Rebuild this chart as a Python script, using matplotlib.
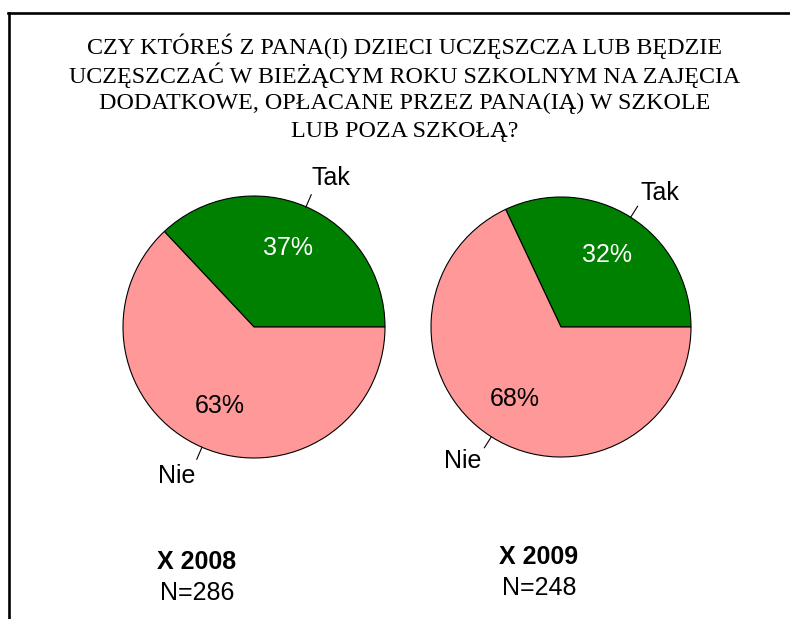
import numpy as np
import matplotlib
matplotlib.use("Agg")
import matplotlib.pyplot as plt
from matplotlib.lines import Line2D

title_lines = [
    "CZY KTÓREŚ Z PANA(I) DZIECI UCZĘSZCZA LUB BĘDZIE",
    "UCZĘSZCZAĆ W BIEŻĄCYM ROKU SZKOLNYM NA ZAJĘCIA",
    "DODATKOWE, OPŁACANE PRZEZ PANA(IĄ) W SZKOLE",
    "LUB POZA SZKOŁĄ?",
]
categories = ["Tak", "Nie"]
values_2008 = [37, 63]
values_2009 = [32, 68]
years = ["X 2008", "X 2009"]
sample_sizes = ["N=286", "N=248"]

colors = ["#008000", "#FF9999"]

W, H = 790, 619
fig = plt.figure(figsize=(W / 100, H / 100), dpi=100)
fig.patch.set_facecolor("white")

# frame: top and left line only
fig.add_artist(Line2D([8 / W, 1], [1 - 12.5 / H, 1 - 12.5 / H], color="black", lw=1.9))
fig.add_artist(Line2D([8.5 / W, 8.5 / W], [0, 1 - 12.5 / H], color="black", lw=1.9))

title_y = [46, 75, 103, 131]
for line, y in zip(title_lines, title_y):
    fig.text(405 / W, 1 - y / H, line, ha="center", va="center",
             family="Liberation Serif", fontsize=17.3)


def draw_pie(cx, cy, r, vals, year, n, cap_x, cap_y):
    half = r * 1.4
    ax = fig.add_axes([(cx - half) / W, (H - cy - half) / H, 2 * half / W, 2 * half / H])
    wedges, _ = ax.pie(vals, colors=colors, startangle=0, counterclock=True,
                       radius=1.0, wedgeprops=dict(edgecolor="black", linewidth=0.8))
    ax.set_xlim(-1.4, 1.4)
    ax.set_ylim(-1.4, 1.4)
    ax.set_aspect("equal")
    ax.axis("off")
    for w, lab, v in zip(wedges, categories, vals):
        mid = np.deg2rad((w.theta1 + w.theta2) / 2)
        c, s = np.cos(mid), np.sin(mid)
        ax.plot([c * 1.0, c * 1.1], [s * 1.0, s * 1.1], color="black", lw=0.8)
        lab_ang = mid - np.deg2rad(4)
        ax.text(1.28 * np.cos(lab_ang), 1.28 * np.sin(lab_ang), lab,
                ha="center", va="center", family="Liberation Sans", fontsize=18)
        tc = "white" if lab == "Tak" else "black"
        ax.text(0.66 * c, 0.66 * s, f"{v}%", ha="center", va="center",
                family="Liberation Sans", fontsize=18, color=tc)
    fig.text(cap_x / W, 1 - cap_y / H, year, ha="center", va="center",
             family="Liberation Sans", fontsize=18, fontweight="bold")
    fig.text(cap_x / W, 1 - (cap_y + 31) / H, n, ha="center", va="center",
             family="Liberation Sans", fontsize=18)


draw_pie(254, 327, 131, values_2008, years[0], sample_sizes[0], 197, 562)
draw_pie(561, 327, 130, values_2009, years[1], sample_sizes[1], 539, 557)

fig.savefig("out.png", dpi=100)
